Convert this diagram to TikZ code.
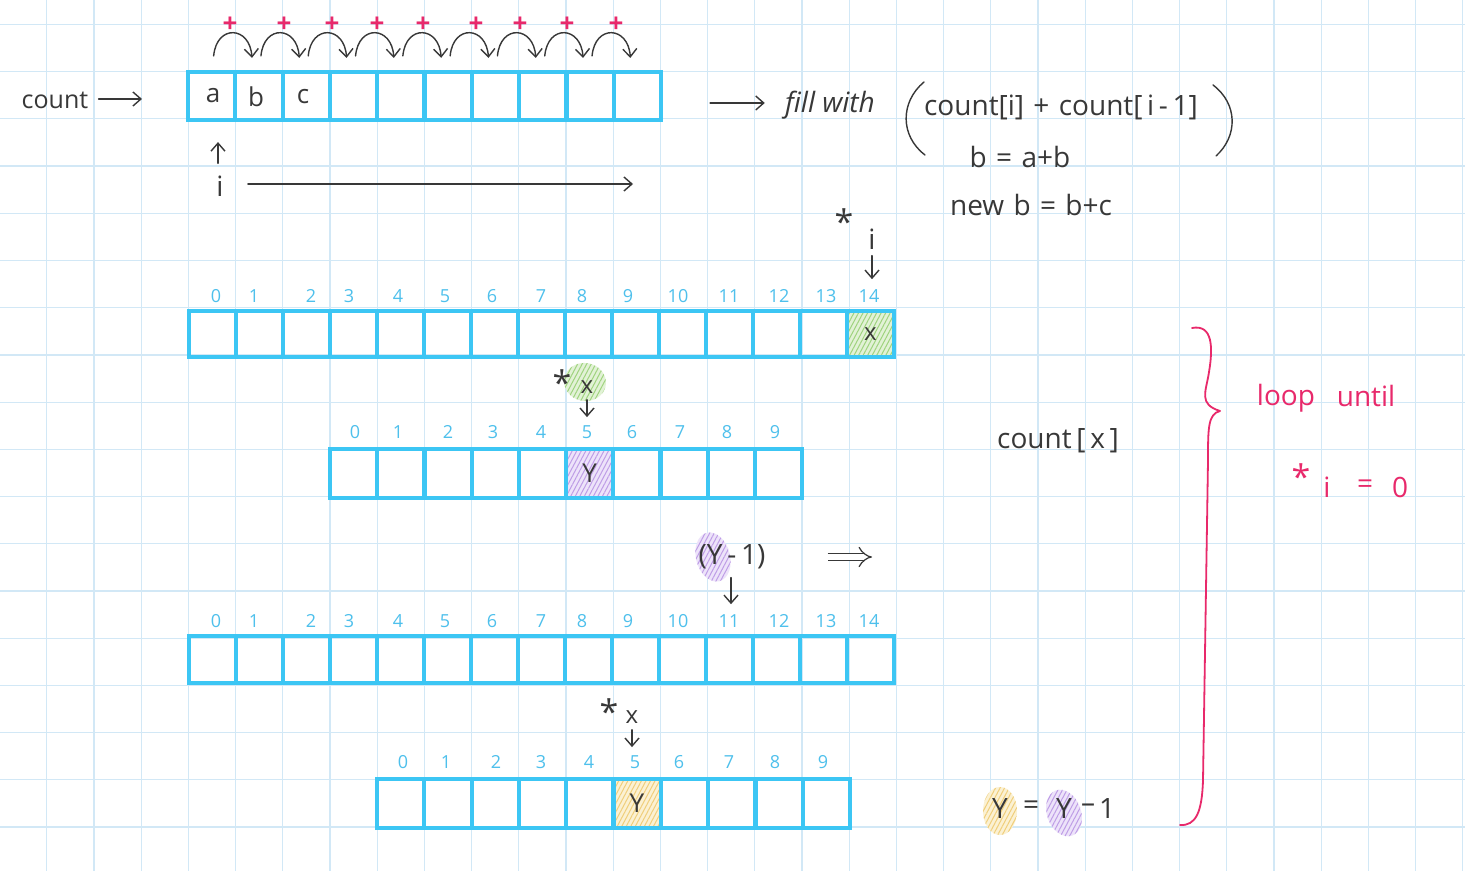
\documentclass[tikz,border=0pt]{standalone}
\usepackage{fontspec}
\setmainfont{Open Sans}
\usetikzlibrary{arrows.meta,patterns.meta,shapes.geometric}
\definecolor{gridc}{HTML}{D2E8F6}
\definecolor{cellc}{HTML}{3CC6F4}
\definecolor{idxc}{HTML}{4EC0EC}
\definecolor{ink}{HTML}{383838}
\definecolor{pinkc}{HTML}{E8296B}
\definecolor{greenc}{HTML}{E2F2D6}
\definecolor{greenl}{HTML}{9FD37E}
\definecolor{purplec}{HTML}{EDE3FA}
\definecolor{purplel}{HTML}{BE9DE6}
\definecolor{yellowc}{HTML}{FBF1D3}
\definecolor{yellowl}{HTML}{F0CE7A}
\tikzset{
  cell/.style={draw=cellc, line width=2.1pt, minimum width=23.6pt, minimum height=23.5pt, inner sep=0pt},
  idx/.style={text=idxc, font=\fontsize{9}{9}\selectfont, inner sep=0pt},
  hand/.style={text=ink, font=\fontsize{14}{14}\selectfont, inner sep=0pt},
  small/.style={text=ink, font=\fontsize{12}{12}\selectfont, inner sep=0pt},
  star/.style={text=ink, font=\fontsize{17}{17}\selectfont, inner sep=0pt},
  plus/.style={text=pinkc, font=\fontsize{13}{13}\selectfont\bfseries, inner sep=0pt},
  pinktext/.style={text=pinkc, font=\fontsize{14}{14}\selectfont, inner sep=0pt},
  pen/.style={draw=ink, line width=0.7pt, line cap=round},
  arr/.style={pen, -{Straight Barb[length=4pt,width=7pt]}},
  pinkpen/.style={draw=pinkc, line width=0.9pt, line cap=round, line join=round},
  hatch/.style n args={2}{fill=#1, postaction={pattern={Lines[angle=62,distance=2pt,line width=0.5pt]}, pattern color=#2}},
  shadebox/.style={rectangle, inner sep=0pt, draw=none},
  blob/.style={ellipse, inner sep=0pt, draw=none},
}
\begin{document}
\begin{tikzpicture}[x=0.5pt,y=-0.5pt]
\fill[white] (0,0) rectangle (1465,871);
\useasboundingbox (0,0) rectangle (1465,871);
% grid
\foreach \k in {1,...,31} \draw[gridc, line width=0.6pt] ({47.2*\k-0.5},0) -- ({47.2*\k-0.5},871);
\foreach \j in {0,...,18} \draw[gridc, line width=0.6pt] (0,{24.5+47.2*\j}) -- (1465,{24.5+47.2*\j});

% ---------- top array ----------
\foreach \i in {0,...,9} \node[cell, minimum width=23.65pt, minimum height=24pt] (t\i) at ({188+47.3*\i+23.65},96) {};
\node[small, font=\fontsize{13}{13}\selectfont] (la) at (213,96) {a};
\node[small, font=\fontsize{13}{13}\selectfont] (lb) at (256,97) {b};
\node[small, font=\fontsize{13}{13}\selectfont] (lc) at (303,97) {c};
\foreach \n/\x in {0/230,1/284,2/332,3/377,4/423,5/476,6/520,7/567,8/616}
  \node[plus] (p\n) at (\x,25) {+};
\foreach \i/\j in {0/1,1/2,2/3,3/4,4/5,5/6,6/7,7/8,8/9}
  \draw[arr] ([shift={(2,-14)}]t\i.north) .. controls +(3,-32) and +(-2,-32) .. ([shift={(-7,-12)}]t\j.north);
\node[hand, font=\fontsize{12.5}{12.5}\selectfont] (cnt) at (55,100) {count};
\coordinate (cntto) at (142,99);
\draw[arr, shorten <=5pt] (cnt.east |- cntto) -- (cntto);
\node[hand] (itop) at (220,186) {i};
\draw[arr, shorten <=6pt, shorten >=10pt] (itop.north -| 218,0) -- (t0.south -| 218,0);
\coordinate (iend) at (633,184);
\draw[arr, shorten <=12pt] (itop.east |- iend) -- (iend);

% ---------- fill with ----------
\node[hand, font=\fontsize{14}{14}\selectfont\itshape] (fill) at (830,105) {fill with};
\draw[arr, shorten <=23.5pt, shorten >=10pt] (t9.east |- 0,103) -- (fill.west |- 0,103);
\node[hand] (expr) at (1061,107) {count[i]\,\,+\,\,count[\,i\,-\,1]};
\draw[pen] (924,82) .. controls (900,102) and (900,136) .. (925,155);
\draw[pen] (1213,85) .. controls (1238,104) and (1238,136) .. (1216,156);
\node[hand] (bab) at (1020,157) {b\,\,=\,\,a+b};
\node[hand] (newb) at (1031,205) {new\,\,b\,\,=\,\,b+c};

% ---------- row 2 ----------
\node[star] (s1) at (844,222) {*};
\node[hand] (i2) at (872,239) {i};
\node[shadebox, minimum width=23.5pt, minimum height=23pt, hatch={greenc}{greenl}] (sh2) at ({189+47*14+23.5},334) {};
\foreach \i in {0,...,14} \node[cell, minimum width=23.5pt, minimum height=23pt] (ca\i) at ({189+47*\i+23.5},334) {};
\node[small] (xa) at (ca14) {x};
\foreach \n/\x in {0/216,1/254,2/311,3/349,4/398,5/445,6/492,7/541,8/582,9/628,10/678,11/729,12/779,13/826,14/869}
  \node[idx] (ma\n) at (\x,296) {\n};
\draw[arr, shorten <=3pt, shorten >=5pt] (i2.south) -- (ma14.north -| i2.south);

% ---------- row 3 ----------
\node[blob, minimum width=21pt, minimum height=19pt, hatch={greenc}{greenl}, rotate=-10] (gb) at (585,382) {};
\node[star] (s2) at (562,383) {*};
\node[small] (x3) at (587,387) {x};
\node[shadebox, minimum width=23.6pt, minimum height=24.5pt, hatch={purplec}{purplel}] (sh3) at ({330+47.2*5+23.6},473.5) {};
\foreach \i in {0,...,9} \node[cell, minimum width=23.6pt, minimum height=24.5pt] (cb\i) at ({330+47.2*\i+23.6},473.5) {};
\node[small, font=\fontsize{13}{13}\selectfont] (y3) at (cb5) {Y};
\foreach \n/\x in {0/355,1/398,2/448,3/493,4/541,5/587,6/632,7/680,8/727,9/775}
  \node[idx] (mb\n) at (\x,432) {\n};
\draw[arr, shorten <=3pt, shorten >=4pt] (x3.south) -- (mb5.north -| x3.south);
\node[hand] (cx) at (1058,441) {count\,[\,x\,]};

% ---------- row 4 ----------
\foreach \i in {0,...,14} \node[cell, minimum width=23.5pt, minimum height=23.5pt] (cc\i) at ({189+47*\i+23.5},659.5) {};
\foreach \n/\x in {0/216,1/254,2/311,3/349,4/398,5/445,6/492,7/541,8/582,9/628,10/678,11/729,12/779,13/826,14/869}
  \node[idx] (mc\n) at (\x,621) {\n};

% ---------- (Y-1) ----------
\node[blob, minimum width=17pt, minimum height=25pt, hatch={purplec}{purplel}, rotate=15] (pb) at (713,557) {};
\node[hand] (ym1) at (732,557) {(Y\,-\,1)};
\draw[arr, shorten <=4pt, shorten >=5pt] (ym1.south -| 731,0) -- (mc11.north -| 731,0);
\coordinate (dbl) at (872,557);
\draw[ink, line width=0.6pt, double=white, double distance=3pt, -{Implies}, shorten <=31pt] (ym1.east |- dbl) -- (dbl);

% ---------- row 5 ----------
\node[star] (s3) at (609,712) {*};
\node[small] (x5) at (632,717) {x};
\node[shadebox, minimum width=23.65pt, minimum height=24.5pt, hatch={yellowc}{yellowl}] (sh5) at ({377+47.3*5+23.65},805) {};
\foreach \i in {0,...,9} \node[cell, minimum width=23.65pt, minimum height=24.5pt] (cd\i) at ({377+47.3*\i+23.65},803.5) {};
\node[small, font=\fontsize{13}{13}\selectfont] (y5) at (637,803) {Y};
\foreach \n/\x in {0/403,1/446,2/496,3/541,4/589,5/635,6/679,7/729,8/775,9/823}
  \node[idx] (md\n) at (\x,762) {\n};
\draw[arr, shorten <=3pt, shorten >=4pt] (x5.south) -- (md5.north -| x5.south);

% ---------- Y = Y - 1 ----------
\node[blob, minimum width=17pt, minimum height=24pt, hatch={yellowc}{yellowl}] (yb1) at (1000,811) {};
\node[blob, minimum width=17pt, minimum height=24pt, hatch={purplec}{purplel}, rotate=20] (yb2) at (1064,813) {};
\node[hand] (ya) at (1000,808) {Y};
\node[hand] (yeq) at (1031,808) {=};
\node[hand] (yb) at (1064,808) {Y};
\node[hand] (ymin) at (1088,808) {–};
\node[hand] (yone) at (1107,808) {1};

% ---------- brace ----------
\draw[pinkpen] (1192,328) .. controls (1213,324) and (1213,348) .. (1209,372)
  .. controls (1206,392) and (1198,404) .. (1220,411)
  .. controls (1208,414) and (1208,428) .. (1208,460)
  -- (1203,780) .. controls (1202,812) and (1196,826) .. (1180,825);
\node[pinktext] (loop) at (1286,398) {loop};
\node[pinktext] (until) at (1366,396) {until};
\node[pinktext, font=\fontsize{17}{17}\selectfont] (s4) at (1301,477) {*};
\node[pinktext] (ieq) at (1327,487) {i};
\node[pinktext] (peq) at (1365,487) {=};
\node[pinktext] (pz) at (1400,487) {0};
\end{tikzpicture}
\end{document}
